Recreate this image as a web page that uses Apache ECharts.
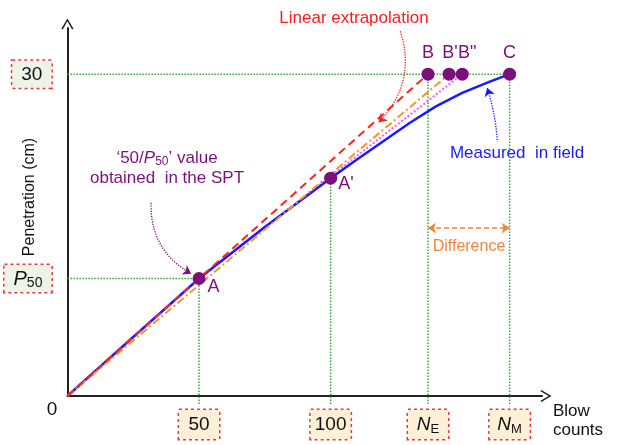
<!DOCTYPE html>
<html><head><meta charset="utf-8">
<script src="https://cdn.jsdelivr.net/npm/echarts@6/dist/echarts.min.js"></script>
<style>html,body{margin:0;padding:0;background:#fff}#c{width:628px;height:445px}</style>
</head><body><div id="c"></div>
<script>
// ---- data ----
const P50 = 10.95;          // penetration at 50 blows
const N_E = 137;            // linear extrapolation to 30 cm
const N_B1 = 145;           // B'
const N_B2 = 150;           // B''
const N_M = 168;            // measured in field
const AprimeY = 20.3;       // penetration at 100 blows
const xTickValues = [50, 100, N_E, N_M];
const yTickValues = [P50, 30];
const measuredX = [0, 25, 50, 75, 100, 110, 120, 130, 140, 150, 160, 168];
const measuredY = [0, 5.5, 10.95, 15.75, 20.3, 22.05, 23.75, 25.45, 27.0, 28.25, 29.25, 30];
const pointNames = ['A', "A'", 'B', "B'", 'B"', 'C'];
const pointX = [50, 100, N_E, N_B1, N_B2, N_M];
const pointY = [P50, AprimeY, 30, 30, 30, 30];
const arrowExtrap = [[126.5, 34.0], [118.2, 25.5]];
const arrowSPT = [[31.8, 18.0], [47, 11.4]];
const arrowField = [[163.3, 23.85], [159.5, 28.7]];
const diffY = 15.65;
const guideBottom = -0.75;

const chart = echarts.init(document.getElementById('c'));
const FONT = 'Liberation Sans, Arial, sans-serif';
const green = '#3aa53a';
const purple = '#7d0f7d';
const arrowPath = 'path://M0,10 L6,0 L12,10 L10.6,10.8 L6,2.8 L1.4,10.8 Z';

function guide(pts) {
  return {type: 'line', data: pts, symbol: 'none', silent: true, clip: false, z: 1,
    lineStyle: {color: green, width: 1.5, type: 'dotted'}};
}
const measured = measuredX.map((x, i) => [x, measuredY[i]]);
const labelPos = {'A': ['right', [-2, 9]], "A'": ['right', [-3, 6]], 'B': ['top', [0, -2]], "B'": ['top', [1, -2]], 'B"': ['top', [5, -2]], 'C': ['top', [0, -2]]};
const points = pointNames.map((n, i) => ({name: n, value: [pointX[i], pointY[i]],
  label: {position: labelPos[n][0], offset: labelPos[n][1]}}));

const option = {
  animation: false,
  grid: {left: 66, right: 86, top: 28, bottom: 49},
  xAxis: {
    type: 'value', min: 0, max: 180.3,
    splitLine: {show: false}, axisTick: {show: false},
    axisLine: {lineStyle: {color: '#222', width: 2}, symbol: ['none', arrowPath], symbolSize: [14, 11], symbolOffset: [0, 4]},
    axisLabel: {
      customValues: xTickValues, margin: 14,
      formatter: v => v === N_E ? '{i|N}{s|E}' : (v === N_M ? '{i|N}{s|M}' : String(v)),
      fontFamily: FONT, fontSize: 19, color: '#111',
      backgroundColor: '#fdf0d6', borderColor: '#e83a3a', borderType: 'dotted', borderWidth: 1.5,
      width: 32, align: 'center', padding: [4, 4, 3, 4], lineHeight: 22,
      rich: {i: {fontStyle: 'italic', fontSize: 19, fontFamily: FONT, color: '#111', lineHeight: 22},
             s: {fontSize: 13, fontFamily: FONT, color: '#111', padding: [9, 0, 0, 0], lineHeight: 14}}
    }
  },
  yAxis: {
    type: 'value', min: 0, max: 34.3,
    splitLine: {show: false}, axisTick: {show: false},
    axisLine: {lineStyle: {color: '#222', width: 2}, symbol: ['none', arrowPath], symbolSize: [14, 11], symbolOffset: [0, 4]},
    axisLabel: {
      customValues: yTickValues, margin: 16,
      formatter: v => v === 30 ? '30' : '{i|P}{s|50}',
      fontFamily: FONT, fontSize: 19, color: '#111',
      backgroundColor: '#eef3e8', borderColor: '#e83a3a', borderType: 'dotted', borderWidth: 1.5,
      padding: [3, 9, 2, 9], lineHeight: 22,
      rich: {i: {fontStyle: 'italic', fontSize: 20, fontFamily: FONT, color: '#111', lineHeight: 22},
             s: {fontSize: 14, fontFamily: FONT, color: '#111', padding: [9, 0, 0, 0], lineHeight: 14}}
    }
  },
  graphic: [
    {type: 'text', x: 52, y: 410, style: {text: '0', font: '19px ' + FONT, fill: '#111', align: 'center', verticalAlign: 'middle'}},
    {type: 'text', x: 553, y: 402, style: {text: 'Blow\ncounts', font: '17px ' + FONT, fill: '#111', lineHeight: 19, align: 'left', verticalAlign: 'top'}},
    {type: 'text', x: 30, y: 197, rotation: Math.PI / 2, style: {text: 'Penetration (cm)', font: '16px ' + FONT, fill: '#111', align: 'center', verticalAlign: 'middle'}},
    {type: 'text', x: 354, y: 18, style: {text: 'Linear extrapolation', font: '17px ' + FONT, fill: '#ff1a1a', align: 'center', verticalAlign: 'middle'}},
    {type: 'text', x: 517, y: 153, style: {text: 'Measured  in field', font: '17px ' + FONT, fill: '#1a1aff', align: 'center', verticalAlign: 'middle'}},
    {type: 'text', x: 469, y: 247, style: {text: 'Difference', font: '16px ' + FONT, fill: '#f0843a', align: 'center', verticalAlign: 'middle'}},
    {type: 'text', x: 167, y: 168, style: {
      text: '{t|‘50/}{i|P}{s|50}{t|’ value}\n{t|obtained  in the SPT}', align: 'center', verticalAlign: 'middle',
      rich: {t: {font: '17px ' + FONT, fill: purple, lineHeight: 20},
             i: {font: 'italic 17px ' + FONT, fill: purple, lineHeight: 20},
             s: {font: '12px ' + FONT, fill: purple, padding: [8, 0, 0, 0], lineHeight: 12}}
    }}
  ],
  series: [
    guide([[0, 30], [N_M, 30]]),
    guide([[0, P50], [50, P50]]),
    guide([[50, guideBottom], [50, P50]]),
    guide([[100, guideBottom], [100, AprimeY]]),
    guide([[N_E, guideBottom], [N_E, 30]]),
    guide([[N_M, guideBottom], [N_M, 30]]),
    {type: 'line', data: [[50, P50], [N_B2, 30]], symbol: 'none', z: 3, lineStyle: {color: '#ff55ff', width: 2, type: [2, 2]}},
    {type: 'line', data: measured, smooth: false, symbol: 'none', z: 4, lineStyle: {color: '#1a1aff', width: 2.5, join: 'round'}},
    {type: 'line', data: [[0, 0], [N_B1, 30]], symbol: 'none', z: 4, lineStyle: {color: '#f7942e', width: 2, type: [8, 3, 2, 3]}},
    {type: 'line', data: [[0, 0], [N_E, 30]], symbol: 'none', z: 5, lineStyle: {color: '#ff2020', width: 2, type: [8, 5]}},
    {type: 'lines', coordinateSystem: 'cartesian2d', z: 6, symbol: ['none', 'arrow'], symbolSize: 8,
      data: [{coords: arrowExtrap}], lineStyle: {color: '#ff2020', width: 1.3, type: 'dotted', curveness: 0.3, opacity: 1}},
    {type: 'lines', coordinateSystem: 'cartesian2d', z: 6, symbol: ['none', 'arrow'], symbolSize: 8,
      data: [{coords: arrowSPT}], lineStyle: {color: purple, width: 1.3, type: 'dotted', curveness: -0.3, opacity: 1}},
    {type: 'lines', coordinateSystem: 'cartesian2d', z: 6, symbol: ['none', 'arrow'], symbolSize: 8,
      data: [{coords: arrowField}], lineStyle: {color: '#1a1aff', width: 1.3, type: 'dotted', curveness: -0.06, opacity: 1}},
    {type: 'lines', coordinateSystem: 'cartesian2d', z: 6, symbol: ['arrow', 'arrow'], symbolSize: 8,
      data: [{coords: [[N_E, diffY], [N_M, diffY]]}], lineStyle: {color: '#f0843a', width: 1.5, type: [5, 3], opacity: 1}},
    {type: 'scatter', data: points, symbolSize: 13, z: 10, itemStyle: {color: purple, opacity: 1},
      label: {show: true, formatter: p => p.name, color: purple, fontSize: 18, fontFamily: FONT, distance: 4}}
  ]
};
chart.setOption(option);
</script></body></html>
